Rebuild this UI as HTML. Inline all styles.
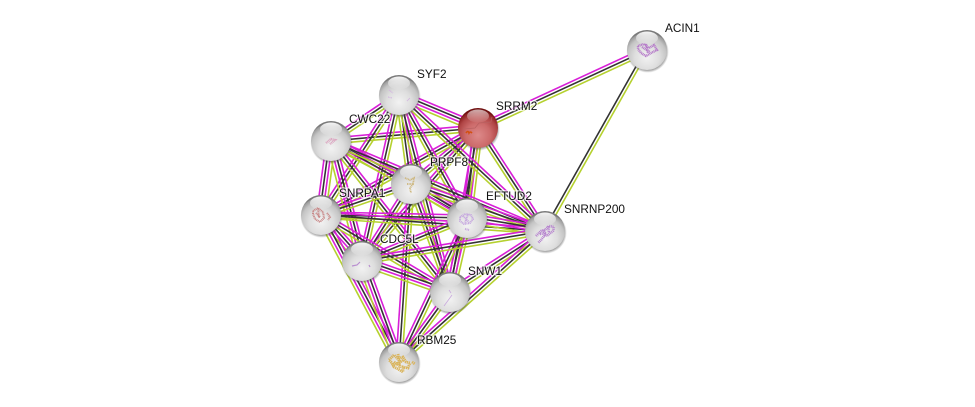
<!DOCTYPE html>
<html><head><meta charset="utf-8"><style>
html,body{margin:0;padding:0;background:#fff;width:975px;height:407px;overflow:hidden}
svg{display:block}
text{font-family:"Liberation Sans",sans-serif;font-size:11.8px;fill:#111;stroke:#fff;stroke-opacity:.7;stroke-width:2.5px;paint-order:stroke;stroke-linejoin:round}
.b line{vector-effect:non-scaling-stroke;stroke-width:1.6}
</style></head><body>
<svg width="975" height="407" viewBox="0 0 975 407" xmlns="http://www.w3.org/2000/svg">
<defs>
<g id="b" class="b"><line x1="0" x2="1" y1="-4.5" y2="-4.5" stroke="#d81fd8"/><line x1="0" x2="1" y1="-1.5" y2="-1.5" stroke="#333"/><line x1="0" x2="1" y1="1.5" y2="1.5" stroke="#d81fd8"/><line x1="0" x2="1" y1="4.5" y2="4.5" stroke="#b5d12f"/></g>
<g id="t" class="b"><line x1="0" x2="1" y1="-3" y2="-3" stroke="#d81fd8"/><line x1="0" x2="1" y1="0" y2="0" stroke="#333"/><line x1="0" x2="1" y1="3" y2="3" stroke="#b5d12f"/></g>
<g id="d" class="b"><line x1="0" x2="1" y1="-1.5" y2="-1.5" stroke="#333"/><line x1="0" x2="1" y1="1.5" y2="1.5" stroke="#b5d12f"/></g>
<radialGradient id="g" cx=".5" cy=".68" r=".62"><stop offset="0" stop-color="#f2f2f2"/><stop offset=".5" stop-color="#dedede"/><stop offset=".8" stop-color="#c4c4c4"/><stop offset=".97" stop-color="#9a9a9a"/><stop offset="1" stop-color="#7a7a7a"/></radialGradient>
<radialGradient id="r" cx=".5" cy=".68" r=".62"><stop offset="0" stop-color="#dd8a8a"/><stop offset=".5" stop-color="#cc6a6a"/><stop offset=".8" stop-color="#b04545"/><stop offset=".97" stop-color="#8a1f1f"/><stop offset="1" stop-color="#701010"/></radialGradient>
<linearGradient id="h" x1="0" y1="0" x2="0" y2="1"><stop offset="0" stop-color="#fff" stop-opacity=".95"/><stop offset="1" stop-color="#fff" stop-opacity=".05"/></linearGradient>
<radialGradient id="s" cx=".5" cy=".5" r=".5"><stop offset=".85" stop-color="#444" stop-opacity=".6"/><stop offset="1" stop-color="#555" stop-opacity="0"/></radialGradient>
<g id="n"><circle cx=".6" cy="1.6" r="21.2" fill="url(#s)"/><circle r="20" fill="url(#g)"/><ellipse cx="0" cy="-12" rx="11" ry="6.5" fill="url(#h)"/></g>
<g id="m"><circle cx=".6" cy="1.6" r="21.2" fill="url(#s)"/><circle r="20" fill="url(#r)"/><ellipse cx="0" cy="-12" rx="11" ry="6.5" fill="url(#h)" opacity=".7"/></g>
</defs>
<g>
<use href="#t" transform="matrix(169 -78 .42 .91 478 128)"/>
<use href="#d" transform="matrix(102 -181 .87 .49 545 231)"/>
<use href="#b" transform="matrix(79 33 -.38 .92 399 95)"/>
<use href="#t" transform="matrix(147 -13 .09 .99 331 141)"/>
<use href="#t" transform="matrix(67 -56 .64 .77 411 184)"/>
<use href="#t" transform="matrix(157 -87 .49 .87 321 215)"/>
<use href="#b" transform="matrix(11 -90 .99 .12 467 218)"/>
<use href="#t" transform="matrix(67 103 -.84 .54 478 128)"/>
<use href="#t" transform="matrix(116 -133 .76 .66 362 261)"/>
<use href="#t" transform="matrix(28 -164 .99 .17 450 292)"/>
<use href="#t" transform="matrix(68 -46 .56 .83 331 141)"/>
<use href="#t" transform="matrix(12 89 -.99 .13 399 95)"/>
<use href="#t" transform="matrix(78 -120 .84 .55 321 215)"/>
<use href="#t" transform="matrix(68 123 -.87 .48 399 95)"/>
<use href="#t" transform="matrix(146 136 -.68 .73 399 95)"/>
<use href="#t" transform="matrix(37 -166 .98 .22 362 261)"/>
<use href="#t" transform="matrix(51 197 -.97 .25 399 95)"/>
<use href="#b" transform="matrix(80 43 -.47 .88 331 141)"/>
<use href="#b" transform="matrix(10 -74 .99 .13 321 215)"/>
<use href="#t" transform="matrix(136 77 -.49 .87 331 141)"/>
<use href="#t" transform="matrix(214 90 -.39 .92 331 141)"/>
<use href="#b" transform="matrix(31 120 -.97 .25 331 141)"/>
<use href="#t" transform="matrix(119 151 -.79 .62 331 141)"/>
<use href="#t" transform="matrix(90 -31 .33 .95 321 215)"/>
<use href="#b" transform="matrix(56 34 -.52 .85 411 184)"/>
<use href="#t" transform="matrix(134 47 -.33 .94 411 184)"/>
<use href="#t" transform="matrix(49 -77 .85 .54 362 261)"/>
<use href="#t" transform="matrix(39 108 -.94 .34 411 184)"/>
<use href="#t" transform="matrix(12 -178 1 .07 399 362)"/>
<use href="#t" transform="matrix(146 3 -.02 1 321 215)"/>
<use href="#t" transform="matrix(224 16 -.07 1 321 215)"/>
<use href="#b" transform="matrix(41 46 -.74 .66 321 215)"/>
<use href="#t" transform="matrix(129 77 -.51 .86 321 215)"/>
<use href="#b" transform="matrix(78 147 -.89 .47 321 215)"/>
<use href="#b" transform="matrix(78 13 -.16 .99 467 218)"/>
<use href="#t" transform="matrix(105 -43 .38 .93 362 261)"/>
<use href="#b" transform="matrix(17 -74 .97 .22 450 292)"/>
<use href="#t" transform="matrix(68 -144 .9 .43 399 362)"/>
<use href="#t" transform="matrix(183 -30 .16 .99 362 261)"/>
<use href="#t" transform="matrix(95 -61 .54 .84 450 292)"/>
<use href="#t" transform="matrix(146 -131 .67 .74 399 362)"/>
<use href="#b" transform="matrix(88 31 -.33 .94 362 261)"/>
<use href="#b" transform="matrix(37 101 -.94 .34 362 261)"/>
<use href="#t" transform="matrix(51 -70 .8 .58 399 362)"/>
</g>
<use href="#n" x="647" y="50"/>
<use href="#m" x="478" y="128"/>
<use href="#n" x="399" y="95"/>
<use href="#n" x="331" y="141"/>
<use href="#n" x="411" y="184"/>
<use href="#n" x="321" y="215"/>
<use href="#n" x="467" y="218"/>
<use href="#n" x="545" y="231"/>
<use href="#n" x="362" y="261"/>
<use href="#n" x="450" y="292"/>
<use href="#n" x="399" y="362"/>
<g fill="none" stroke-linecap="butt">
<path d="M638 46l6-2 5 4 5-3 3 5-6 3-5 3-5-3-3-4zM642 47l8 5M646 44l2 9" stroke="#b57ac9" stroke-width="2.4" stroke-dasharray="1 .6"/>
<path d="M463 129l12-1 4-5 12-1 1-5" stroke="#b96060" stroke-width=".7"/>
<path d="M466 133q2-3 3 0q1-2 3 0" stroke="#d2500f" stroke-width="1.6"/>
<path d="M389 90l4 3M388 97l4 1M407 101l3-3" stroke="#d4b8e0" stroke-width="1.2" stroke-dasharray="1 .5"/>
<path d="M326 143l5-4 4 1-5 4" stroke="#dca8c2" stroke-width="2.4" stroke-dasharray="1 .6"/>
<path d="M405 178l5 2 4-2-1 6-3 4 1 5M407 184l7 0" stroke="#cdb67c" stroke-width="1.8" stroke-dasharray="1 .6"/>
<path d="M313 211l5-3 5 4 1 6-4 4-5-3-2-5zM316 213l4 4M318 208l1 10M327 213l3 4-2 3" stroke="#c98a8a" stroke-width="2" stroke-dasharray="1 .6"/>
<path d="M460 217l5-3 6 1 2 4-3 4-6 1-4-3zM463 216l6 6M468 214l-3 9M465 229l4 1" stroke="#c6a8df" stroke-width="2" stroke-dasharray="1 .6"/>
<path d="M536 236l5-5 4-1 4-4 5 1-1 4-5 4-4 1-3 4-3 3M543 230l3 6M540 234l7-1M548 226l1 7" stroke="#b785cf" stroke-width="2.6" stroke-dasharray="1 .7"/>
<path d="M352 266l5-1 3-3M369 265l1 2" stroke="#b98fd0" stroke-width="1.2"/>
<path d="M444 306l8-11M449 290l2 3" stroke="#c9a9dd" stroke-width=".8"/>
<path d="M389 360l5-5 4 4 5-2 3 5 4 1-2 5-5-1 0 5-5-3-4-2-2-4zM394 362l6 4M398 354l2 14M392 366l12-6M412 362l3 2" stroke="#d9b45c" stroke-width="2.8" stroke-dasharray="1.3 .6"/>
</g>
<text x="665" y="32">ACIN1</text>
<text x="496" y="110">SRRM2</text>
<text x="417" y="78">SYF2</text>
<text x="349" y="123">CWC22</text>
<text x="430" y="166">PRPF8</text>
<text x="339" y="197">SNRPA1</text>
<text x="486" y="200">EFTUD2</text>
<text x="564" y="213">SNRNP200</text>
<text x="380" y="243">CDC5L</text>
<text x="468" y="275">SNW1</text>
<text x="417" y="344">RBM25</text>
</svg>
</body></html>
